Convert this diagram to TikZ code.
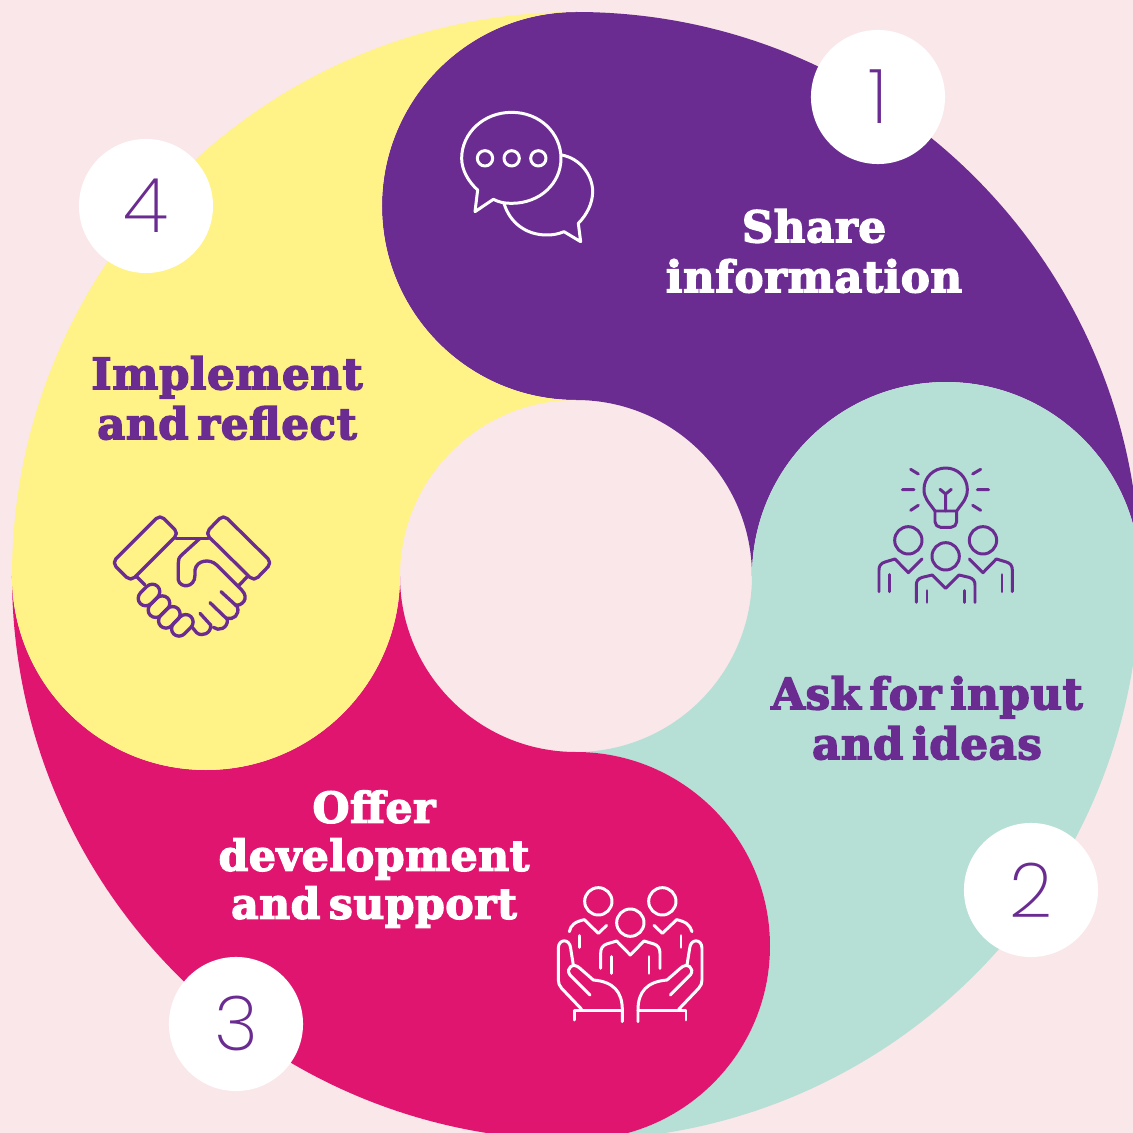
\documentclass[tikz,border=0pt]{standalone}
\usepackage{fontspec}
\setmainfont{Liberation Sans}
\newfontfamily\headfont[FakeBold=3.2,LetterSpace=1.2,WordSpace=0.55]{DejaVu Serif Bold}
\newfontfamily\numfont{Poppins ExtraLight}
\definecolor{bgpink}{HTML}{FAE7E9}
\definecolor{cpurple}{HTML}{6B2C91}
\definecolor{cteal}{HTML}{B6DFD6}
\definecolor{cpink}{HTML}{E0156F}
\definecolor{cyellow}{HTML}{FFF286}
\tikzset{
  numdisc/.style={circle, fill=white, minimum size=1.34cm, inner sep=0pt, text=cpurple, font=\numfont\fontsize{21.5}{21.5}\selectfont},
  headlabel/.style={align=center, font=\headfont\fontsize{12.4}{14.2}\selectfont},
  iconline/.style={line width=0.85pt, line cap=round, line join=round},
}
\begin{document}
\begin{tikzpicture}[x=0.01cm, y=0.01cm]
      \def\bigr{564}
      \def\holer{176}
      \def\lober{194}
      % -------------------------------------------- background
      \useasboundingbox (-576,-557) rectangle (557,576);
      \fill[bgpink] (-576,-557) rectangle (557,576);
      % -------------------------------------------- ring pieces
      \clip (-576,-557) rectangle (557,576);
      \foreach \rot/\col in {0/cpurple, -90/cteal, -180/cpink, -270/cyellow} {
        \fill[\col, rotate=\rot] (0,\bigr) arc (90:0:\bigr) arc (0:180:\lober)
          arc (0:90:\holer) arc (270:90:\lober) -- cycle;
      }
      % -------------------------------------------- numbers
      \node[numdisc] at (302,479) (num_1) {1};
      \node[numdisc] at (455,-314) (num_2) {2};
      \node[numdisc] at (-340,-448) (num_3) {3};
      \node[numdisc] at (-430,370) (num_4) {4};
      % -------------------------------------------- names
      \node[headlabel, text=white] at (238,325) (name_share) {Share\\information};
      \node[headlabel, text=cpurple] at (351,-142) (name_ask) {Ask for input\\and ideas};
      \node[headlabel, text=white, font=\headfont\fontsize{12.1}{13.65}\selectfont] at (-202,-283) (name_offer) {Offer\\development\\and support};
      \node[headlabel, text=cpurple] at (-349,178) (name_impl) {Implement\\and reflect};
      % -------------------------------------------- speech bubbles
      \begin{scope}[shift={(-136,486)}, scale=1/3, yscale=-1, iconline, draw=white]
        \draw (160,328) .. controls (180,338) and (195,340) .. (215,340)
          .. controls (300,340) and (363,280) .. (363,205)
          .. controls (363,130) and (300,67) .. (215,67)
          .. controls (130,67) and (65,130) .. (65,205)
          .. controls (65,240) and (85,275) .. (113,300) -- (105,365) -- cycle;
        \foreach \dotx in {135,215,295} {
          \draw (\dotx,205) circle (23);
        }
        \draw (365,195) .. controls (420,205) and (458,255) .. (458,305)
          .. controls (458,340) and (440,375) .. (415,400) -- (422,455) -- (372,425)
          .. controls (355,432) and (340,435) .. (320,435)
          .. controls (260,435) and (210,400) .. (192,340);
      \end{scope}
      % -------------------------------------------- bulb and people
      \begin{scope}[shift={(284,126)}, scale=1/3, yscale=-1, iconline, draw=cpurple]
        \draw (225,183) .. controls (205,155) and (192,145) .. (192,118)
          .. controls (192,82) and (221,54) .. (257,54)
          .. controls (293,54) and (322,82) .. (322,118)
          .. controls (322,145) and (310,155) .. (290,183) -- cycle;
        \draw[rounded corners=1.6pt] (225,183) -- (225,232) -- (290,232) -- (290,183);
        \draw (257,183) -- (257,130) (240,118) -- (257,132) -- (274,118);
        \draw (152,58) -- (175,72) (127,119) -- (162,119) (152,181) -- (175,166);
        \draw (338,72) -- (362,58) (352,119) -- (386,119) (338,166) -- (362,181);
        \draw (145,271) circle (41) (369,271) circle (41) (257,319) circle (41);
        \draw (57,425) -- (57,360) .. controls (57,348) and (62,340) .. (75,336) -- (105,327) -- (145,368) -- (186,327);
        \draw (88,374) -- (88,425);
        \draw (457,425) -- (457,360) .. controls (457,348) and (452,340) .. (439,336) -- (409,327) -- (369,368) -- (328,327);
        \draw (426,374) -- (426,425);
        \draw (169,457) -- (169,405) .. controls (169,393) and (174,386) .. (187,382) -- (217,375) -- (257,415) -- (297,375) -- (327,382) .. controls (340,386) and (345,393) .. (345,405) -- (345,457);
        \draw (201,422) -- (201,457) (313,422) -- (313,457);
      \end{scope}
      % -------------------------------------------- hands and people
      \begin{scope}[shift={(-36,-294)}, scale=1/3, yscale=-1, iconline, draw=white]
        \draw (175,94) circle (41) (367,94) circle (41) (271,158) circle (41);
        \draw (88,185) .. controls (92,165) and (105,155) .. (133,149) -- (175,190) -- (200,166);
        \draw (119,197) -- (119,232);
        \draw (456,185) .. controls (450,165) and (438,155) .. (410,149) -- (367,190) -- (342,166);
        \draw (423,197) -- (423,232);
        \draw (182,295) -- (182,250) .. controls (182,235) and (188,226) .. (200,222) -- (230,213) -- (271,255) -- (312,213) -- (342,222) .. controls (354,226) and (360,235) .. (360,250) -- (360,295);
        \draw (214,260) -- (214,310) (327,260) -- (327,310);
        \foreach \side/\org in {1/0, -1/541} {
          \begin{scope}[shift={(\org,0)}, xscale=\side]
            \draw (125,418) -- (65,355) .. controls (58,347) and (55,340) .. (55,330) -- (55,235)
              .. controls (55,205) and (90,205) .. (92,235) -- (100,285);
            \draw (150,375) -- (90,315) .. controls (75,295) and (100,275) .. (120,295) -- (160,330)
              .. controls (220,335) and (247,365) .. (247,420) -- (247,455);
            \draw (103,450) -- (103,422) -- (247,422);
          \end{scope}
        }
      \end{scope}
      % -------------------------------------------- handshake
      \begin{scope}[shift={(-476,76)}, scale=1/3, yscale=-1, iconline, line width=0.95pt, draw=cpurple]
        \draw[rounded corners=1.6pt] (180,44) -- (236,100) -- (92,244) -- (36,188) -- cycle;
        \draw[rounded corners=1.6pt] (370,44) -- (316,100) -- (462,244) -- (516,188) -- cycle;
        \draw (228,115) -- (325,115);
        \draw (108,228) -- (135,255) (440,232) -- (415,258);
        \draw (300,115) -- (245,165) .. controls (235,175) and (235,180) .. (235,190) -- (235,240)
          .. controls (240,265) and (285,265) .. (285,225) -- (285,210)
          .. controls (290,180) and (330,175) .. (350,195) -- (425,270)
          .. controls (450,295) and (425,320) .. (405,315);
        \draw (363,275) -- (412,320) .. controls (420,345) and (400,360) .. (380,355);
        \draw (330,308) -- (382,358) .. controls (385,385) and (355,395) .. (340,382);
        \draw (300,340) -- (332,375) .. controls (335,400) and (305,412) .. (290,398) -- (275,380);
        \foreach \capx/\capy in {147/285, 177/320, 208/352, 247/376} {
          \draw[shift={(\capx,\capy)}, rounded corners=2.2pt] (42,-10) -- (10,-42) -- (-42,10) -- (-10,42) -- cycle;
        }
      \end{scope}
    \end{tikzpicture}
\end{document}
